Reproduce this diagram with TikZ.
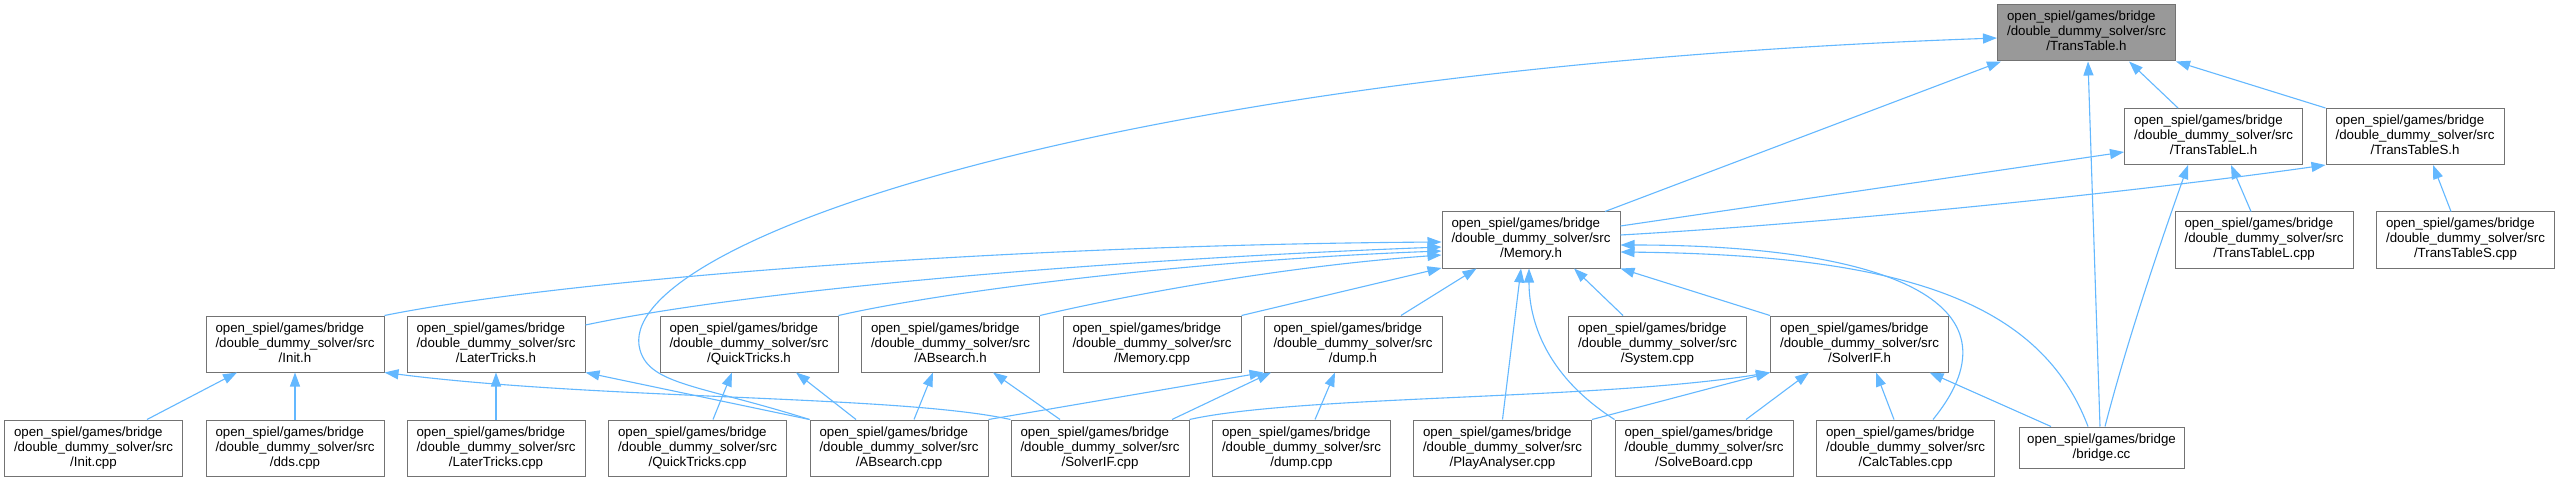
\documentclass[tikz,border=0pt]{standalone}
\usepackage{fontspec}
\setmainfont{Liberation Sans}
\usetikzlibrary{arrows.meta}

\definecolor{edgeblue}{HTML}{63B8FF}
\definecolor{boxgray}{HTML}{737373}
\definecolor{rootgray}{HTML}{999999}

\newcommand{\ddsfile}[1]{\begin{tabular}{@{}l@{}}open\_spiel/games/bridge\\/double\_dummy\_solver/src\\\multicolumn{1}{@{}c@{}}{/#1}\end{tabular}}

\tikzset{
    srcbox/.style={rectangle, draw=boxgray, line width=1pt, fill=white, inner sep=0pt,
        minimum width=178pt, minimum height=56pt, font=\fontsize{13.3}{15}\selectfont},
    rootbox/.style={srcbox, fill=rootgray},
    dep/.style={draw=edgeblue, line width=1.1pt, -{Triangle[length=14pt,width=10pt]}}
}

\begin{document}
\begin{tikzpicture}[x=1pt, y=-1pt]
        % Fondo y marco
        \useasboundingbox (0,0) rectangle (2560,481);
        \fill[white] (0,0) rectangle (2560,481);

        % Fila superior: TransTable.h y sus cabeceras
        \node[rootbox] (tt) at (2086.5,33) {\ddsfile{TransTable.h}};
        \node[srcbox] (ttl) at (2213.5,136.5) {\ddsfile{TransTableL.h}};
        \node[srcbox] (tts) at (2415,136.5) {\ddsfile{TransTableS.h}};
        \node[srcbox] (mem) at (1531,240) {\ddsfile{Memory.h}};
        \node[srcbox] (ttlcpp) at (2264,240) {\ddsfile{TransTableL.cpp}};
        \node[srcbox] (ttscpp) at (2465.5,240) {\ddsfile{TransTableS.cpp}};

        % Cabeceras intermedias
        \node[srcbox] (inith) at (295,344) {\ddsfile{Init.h}};
        \node[srcbox] (lth) at (496,344) {\ddsfile{LaterTricks.h}};
        \node[srcbox] (qth) at (749,344) {\ddsfile{QuickTricks.h}};
        \node[srcbox] (abh) at (950.5,344) {\ddsfile{ABsearch.h}};
        \node[srcbox] (memcpp) at (1152,344) {\ddsfile{Memory.cpp}};
        \node[srcbox] (dumph) at (1353,344) {\ddsfile{dump.h}};
        \node[srcbox] (syscpp) at (1657.5,344) {\ddsfile{System.cpp}};
        \node[srcbox] (sifh) at (1859.5,344) {\ddsfile{SolverIF.h}};

        % Fila inferior: ficheros fuente
        \node[srcbox] (initcpp) at (93.5,448) {\ddsfile{Init.cpp}};
        \node[srcbox] (ddscpp) at (295,448) {\ddsfile{dds.cpp}};
        \node[srcbox] (ltcpp) at (496,448) {\ddsfile{LaterTricks.cpp}};
        \node[srcbox] (qtcpp) at (697.5,448) {\ddsfile{QuickTricks.cpp}};
        \node[srcbox] (abcpp) at (899,448) {\ddsfile{ABsearch.cpp}};
        \node[srcbox] (sifcpp) at (1100,448) {\ddsfile{SolverIF.cpp}};
        \node[srcbox] (dumpcpp) at (1301.5,448) {\ddsfile{dump.cpp}};
        \node[srcbox] (pacpp) at (1502.5,448) {\ddsfile{PlayAnalyser.cpp}};
        \node[srcbox] (sbcpp) at (1704,448) {\ddsfile{SolveBoard.cpp}};
        \node[srcbox] (ctcpp) at (1905.5,448) {\ddsfile{CalcTables.cpp}};
        \node[srcbox, minimum width=165pt, minimum height=41pt] (bridge) at (2101.5,447.5)
            {\begin{tabular}{@{}l@{}}open\_spiel/games/bridge\\\multicolumn{1}{@{}c@{}}{/bridge.cc}\end{tabular}};

        % Inclusiones de TransTable.h
        \draw[dep] ([xshift=74pt]mem.north) -- ([xshift=4pt]tt.south west);
        \draw[dep] ([xshift=-35.5pt]ttl.north) -- ([xshift=42.5pt]tt.south);
        \draw[dep] (tts.north west) -- (tt.south east);
        \draw[dep] ([xshift=-1.5pt]bridge.north) -- ([xshift=1.5pt]tt.south);
        \draw[dep] (abcpp.north west) .. controls (700,385) and (650,385) .. (640,350)
            .. controls (610,245) and (1100,70) .. ([yshift=-5pt]tt.west);

        % Inclusiones de TransTableL.h y TransTableS.h
        \draw[dep] ([yshift=14pt]mem.east) -- ([yshift=-15.5pt]ttl.west);
        \draw[dep] ([yshift=5pt]mem.east) .. controls (1850,222) and (2150,190) .. (tts.south west);
        \draw[dep] ([xshift=-13pt]ttlcpp.north) -- ([xshift=17.5pt]ttl.south);
        \draw[dep] ([xshift=3.5pt]bridge.north) .. controls (2130,330) and (2165,230) .. ([xshift=-25.5pt]ttl.south);
        \draw[dep] ([xshift=-14.5pt]ttscpp.north) -- ([xshift=18pt]tts.south);

        % Inclusiones de Memory.h
        \draw[dep] ([xshift=-13.5pt]bridge.north) .. controls (2040,300) and (1900,255) .. ([yshift=-12pt]mem.east);
        \draw[dep] ([xshift=27.5pt]ctcpp.north) .. controls (2030,300) and (1880,245) .. ([yshift=-5pt]mem.east);
        \draw[dep] (sbcpp.north west) .. controls (1545,375) and (1529,320) .. ([xshift=-2pt]mem.south);
        \draw[dep] (pacpp.north) -- ([xshift=-10pt]mem.south);
        \draw[dep] ([xshift=-34.5pt]syscpp.north) -- ([xshift=43pt]mem.south);
        \draw[dep] (sifh.north west) -- (mem.south east);
        \draw[dep] ([xshift=48pt]dumph.north) -- ([xshift=35pt]mem.south west);
        \draw[dep] (inith.north east) .. controls (560,280) and (1000,245) .. ([yshift=-2pt]mem.west);
        \draw[dep] ([yshift=19pt]lth.east) .. controls (750,290) and (1100,260) .. ([yshift=-7pt]mem.west);
        \draw[dep] (qth.north east) .. controls (950,290) and (1200,260) .. ([yshift=-11pt]mem.west);
        \draw[dep] (abh.north east) .. controls (1150,290) and (1300,265) .. ([yshift=-15pt]mem.west);
        \draw[dep] (memcpp.north east) -- ([yshift=-28pt]mem.west);

        % Cabeceras de la fila intermedia
        \draw[dep] ([xshift=53.5pt]initcpp.north) -- ([xshift=-58pt]inith.south);
        \draw[dep] (ddscpp.north) -- (inith.south);
        \draw[dep] (sifcpp.north west) .. controls (900,395) and (600,400) .. (inith.south east);
        \draw[dep] (ltcpp.north) -- (lth.south);
        \draw[dep] (abcpp.north west) -- (lth.south east);
        \draw[dep] ([xshift=15.5pt]qtcpp.north) -- ([xshift=-17pt]qth.south);
        \draw[dep] ([xshift=-43pt]abcpp.north) -- ([xshift=47pt]qth.south);
        \draw[dep] ([xshift=15pt]abcpp.north) -- ([xshift=-17.5pt]abh.south);
        \draw[dep] ([xshift=-40pt]sifcpp.north) -- ([xshift=42.5pt]abh.south);
        \draw[dep] (abcpp.north east) -- (dumph.south west);
        \draw[dep] ([xshift=72pt]sifcpp.north) -- ([xshift=-82pt]dumph.south);
        \draw[dep] ([xshift=13.5pt]dumpcpp.north) -- ([xshift=-18pt]dumph.south);

        % Inclusiones de SolverIF.h
        \draw[dep] (sifcpp.north east) .. controls (1300,395) and (1600,400) .. (sifh.south west);
        \draw[dep] (pacpp.north east) -- (sifh.south west);
        \draw[dep] ([xshift=42pt]sbcpp.north) -- ([xshift=-50.5pt]sifh.south);
        \draw[dep] ([xshift=-11.5pt]ctcpp.north) -- ([xshift=16.5pt]sifh.south);
        \draw[dep] ([xshift=-50.5pt]bridge.north) -- ([xshift=70pt]sifh.south);
    \end{tikzpicture}
\end{document}
